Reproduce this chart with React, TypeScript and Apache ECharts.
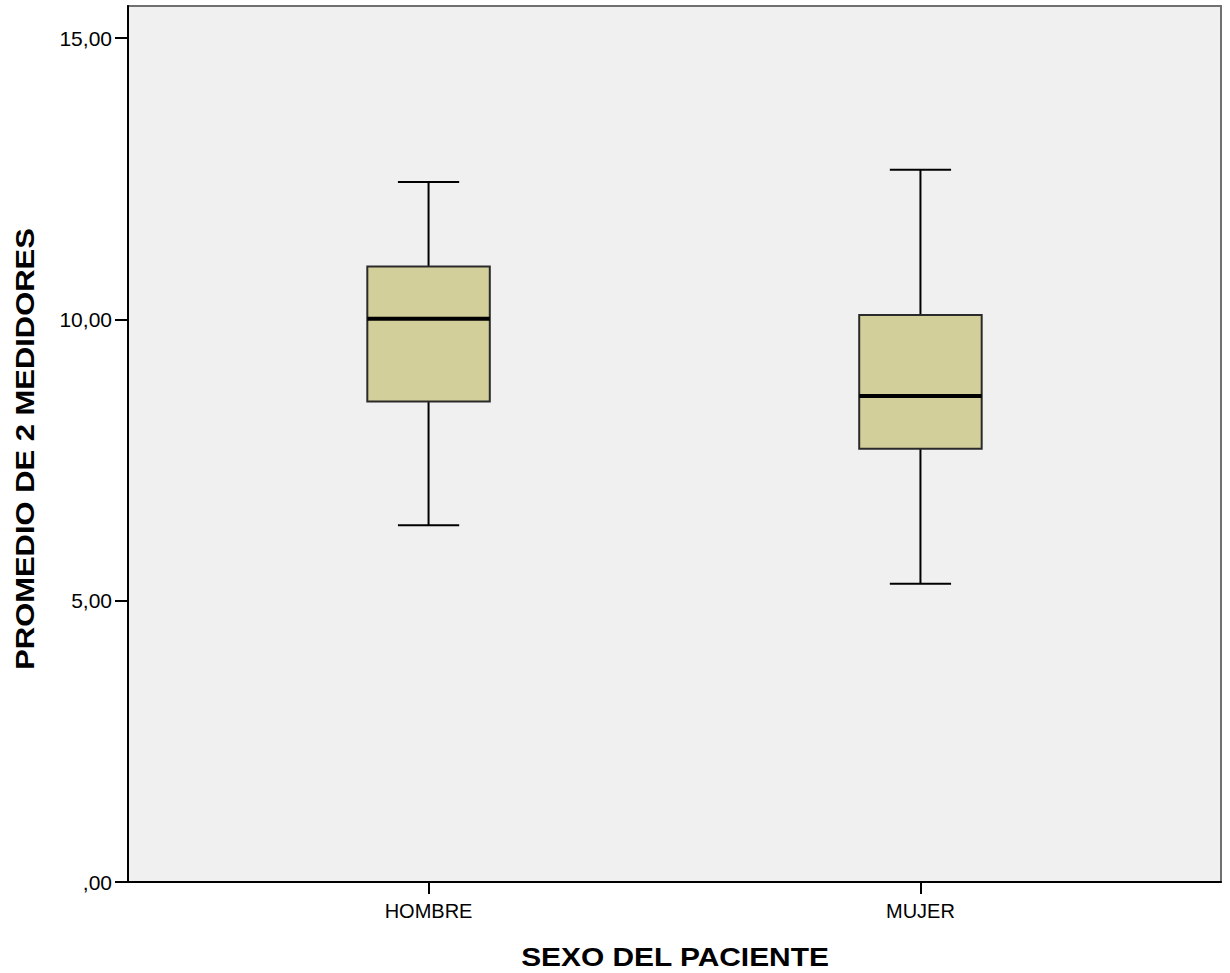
import React, { useEffect, useRef } from "react";
import * as echarts from "echarts";

const categories = ["HOMBRE", "MUJER"];
// [min, Q1, median, Q3, max]
const hombreBox = [6.34, 8.54, 10.01, 10.94, 12.44];
const mujerBox = [5.3, 7.7, 8.64, 10.08, 12.66];
const yTicks = [0, 5, 10, 15];
const yMax = 15.57;
const xTitle = "SEXO DEL PACIENTE";
const yTitle = "PROMEDIO DE 2 MEDIDORES";

const FONT = 'Arial, "Liberation Sans", sans-serif';

export default function App() {
  const ref = useRef<HTMLDivElement>(null);
  useEffect(() => {
    if (!ref.current) return;
    const chart = echarts.init(ref.current, null, { renderer: "svg" });
    const boxes = [hombreBox, mujerBox];
    const data = boxes.map((b, i) => [i, ...b]);
    const boxFrac = 0.249;
    chart.setOption({
      animation: false,
      backgroundColor: "#ffffff",
      grid: {
        left: 128,
        right: 9,
        top: 6,
        bottom: 91,
        show: true,
        backgroundColor: "#F0F0F0",
        borderColor: "#707070",
        borderWidth: 2,
      },
      xAxis: {
        type: "value",
        min: -0.611,
        max: 1.611,
        splitLine: { show: false },
        axisLine: { show: true, onZero: false, lineStyle: { color: "#000", width: 2 } },
        axisTick: {
          show: true,
          customValues: [0, 1],
          length: 12,
          lineStyle: { color: "#000", width: 2 },
        },
        axisLabel: {
          customValues: [0, 1],
          formatter: (v: number) => categories[Math.round(v)] ?? "",
          color: "#000",
          fontSize: 20,
          fontFamily: FONT,
          margin: 19,
        },
      },
      yAxis: {
        type: "value",
        min: 0,
        max: yMax,
        interval: 5,
        splitLine: { show: false },
        axisLine: { show: true, onZero: false, lineStyle: { color: "#000", width: 2 } },
        axisTick: {
          show: true,
          customValues: yTicks,
          length: 13,
          lineStyle: { color: "#000", width: 2 },
        },
        axisLabel: {
          customValues: yTicks,
          formatter: (v: number) => (v === 0 ? ",00" : v.toFixed(2).replace(".", ",")),
          color: "#000",
          fontSize: 21,
          fontFamily: FONT,
          margin: 16,
        },
      },
      graphic: [
        {
          type: "text",
          x: 675,
          y: 957,
          scaleX: 1.15,
          style: {
            text: xTitle,
            font: `bold 26px ${FONT}`,
            fill: "#000",
            textAlign: "center",
            textVerticalAlign: "middle",
          },
        },
        {
          type: "text",
          x: 25,
          y: 449,
          rotation: Math.PI / 2,
          scaleX: 1.19,
          style: {
            text: yTitle,
            font: `bold 26px ${FONT}`,
            fill: "#000",
            textAlign: "center",
            textVerticalAlign: "middle",
          },
        },
      ],
      series: [
        {
          type: "custom",
          data,
          encode: { x: 0, y: [1, 2, 3, 4, 5] },
          renderItem: (params: any, api: any) => {
            const x = api.value(0);
            const mn = api.coord([x, api.value(1)]);
            const q1 = api.coord([x, api.value(2)]);
            const md = api.coord([x, api.value(3)]);
            const q3 = api.coord([x, api.value(4)]);
            const mx = api.coord([x, api.value(5)]);
            const w = api.size([1, 0])[0] * boxFrac;
            const cx = mn[0];
            const half = w / 2;
            const cap = w / 4;
            const lineStyle = { stroke: "#000", lineWidth: 2 };
            return {
              type: "group",
              children: [
                { type: "line", shape: { x1: cx, y1: mx[1], x2: cx, y2: q3[1] }, style: lineStyle },
                { type: "line", shape: { x1: cx, y1: q1[1], x2: cx, y2: mn[1] }, style: lineStyle },
                { type: "line", shape: { x1: cx - cap, y1: mx[1], x2: cx + cap, y2: mx[1] }, style: lineStyle },
                { type: "line", shape: { x1: cx - cap, y1: mn[1], x2: cx + cap, y2: mn[1] }, style: lineStyle },
                {
                  type: "rect",
                  shape: { x: cx - half, y: q3[1], width: w, height: q1[1] - q3[1] },
                  style: { fill: "#D3CF9A", stroke: "#2a2a2a", lineWidth: 2 },
                },
                {
                  type: "line",
                  shape: { x1: cx - half, y1: md[1], x2: cx + half, y2: md[1] },
                  style: { stroke: "#000", lineWidth: 4 },
                },
              ],
            };
          },
        },
      ],
    });
    return () => chart.dispose();
  }, []);
  return (
    <div
      ref={ref}
      style={{ position: "fixed", left: 0, top: 0, width: 1230, height: 973 }}
    />
  );
}
